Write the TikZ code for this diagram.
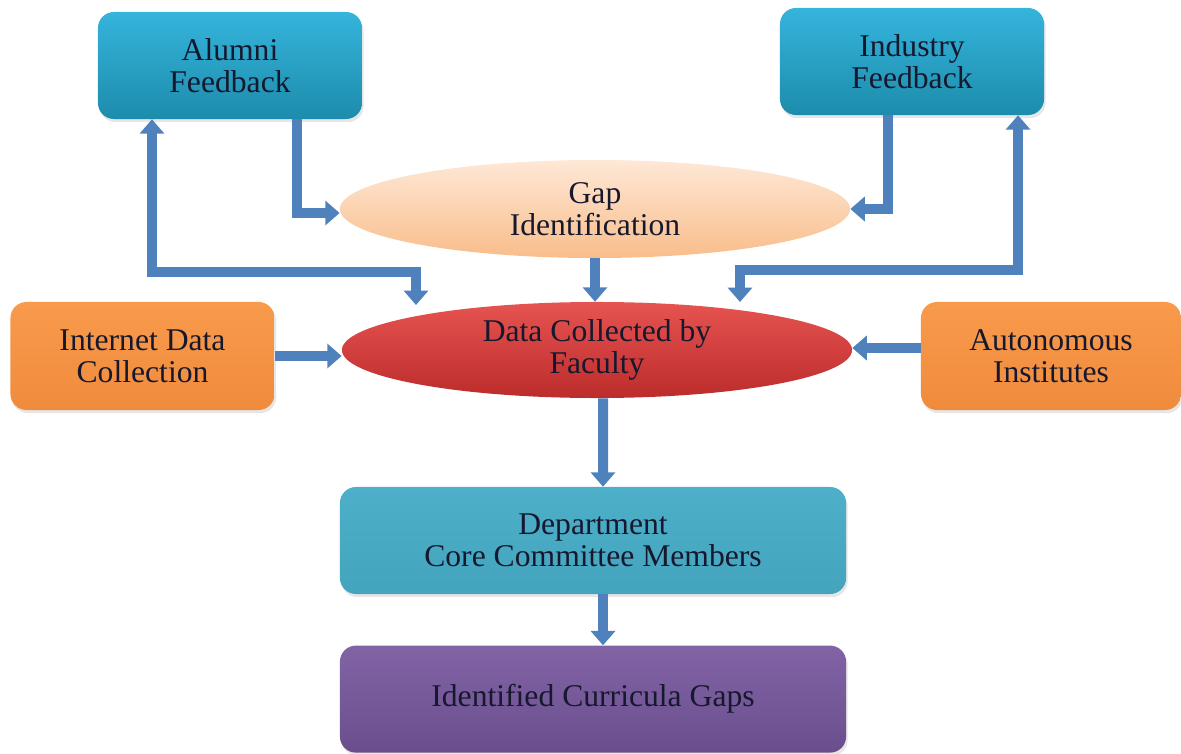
\documentclass[tikz,border=0pt]{standalone}
\usepackage{fontspec}
\setmainfont{Liberation Serif}
\usetikzlibrary{positioning,shapes.geometric,arrows.meta,shadows}

\definecolor{ink}{HTML}{16182E}
\definecolor{flowblue}{HTML}{4F81BD}
\definecolor{tealtop}{HTML}{35B4DC}
\definecolor{tealbot}{HTML}{1D8CAC}
\definecolor{peachtop}{HTML}{FEE8D6}
\definecolor{peachbot}{HTML}{F9BD8B}
\definecolor{redtop}{HTML}{E65451}
\definecolor{redbot}{HTML}{BC2C2B}
\definecolor{orangetop}{HTML}{F89A4C}
\definecolor{orangebot}{HTML}{F08B3C}
\definecolor{cyantop}{HTML}{4DAFC9}
\definecolor{cyanbot}{HTML}{44A4BE}
\definecolor{purpletop}{HTML}{8264A6}
\definecolor{purplebot}{HTML}{6A4E8C}

\begin{document}
\begin{tikzpicture}[x=0.025cm,y=-0.025cm]
      \tikzstyle{txt}=[align=center, text=ink, font=\fontsize{22.5}{23}\selectfont]
      \tikzstyle{box}=[txt, rectangle, rounded corners=0.4cm, minimum width=6.6cm, minimum height=2.675cm, drop shadow={opacity=0.2, shadow xshift=0.04cm, shadow yshift=-0.08cm}]
      \tikzstyle{oval}=[txt, ellipse, inner sep=0pt, minimum width=12.75cm, minimum height=2.45cm]
      \tikzstyle{source}=[box, top color=tealtop, bottom color=tealbot]
      \tikzstyle{outside}=[box, top color=orangetop, bottom color=orangebot, minimum height=2.7cm]
      \tikzstyle{wide}=[box, minimum width=12.65cm]
      \tikzstyle{flow}=[draw=flowblue, line width=0.25cm, -{Triangle[width=0.6cm, length=0.36cm]}]
      \tikzstyle{both}=[flow, {Triangle[width=0.6cm, length=0.36cm]}-{Triangle[width=0.6cm, length=0.36cm]}]

      \useasboundingbox (0,0) rectangle (1181,754);

      \node[source] (alumni) at (230,65.5) {Alumni\\Feedback};
      \node[source] (industry) at (912,61.5) {Industry\\Feedback};
      \node[oval, top color=peachtop, bottom color=peachbot] (gap) at (595,209) {Gap\\Identification};
      \node[oval, top color=redtop, bottom color=redbot, minimum height=2.4cm] (dcf) at (597,350) {Data Collected by\\Faculty};
      \node[outside] (internet) at (142.5,356) {Internet Data\\Collection};
      \node[outside, minimum width=6.5cm] (auto) at (1051,356) {Autonomous\\Institutes};
      \node[wide, top color=cyantop, bottom color=cyanbot] (dept) at (593,540.5) {Department\\Core Committee Members};
      \node[wide, top color=purpletop, bottom color=purplebot] (gaps) [below=1.275cm of dept] {Identified Curricula Gaps};

      \coordinate (a1) at (416,305);
      \coordinate (a2) at (740,302);

      \draw[flow] ([xshift=1.675cm]alumni.south) |- ([yshift=-0.1cm]gap.west);
      \draw[flow] ([xshift=-0.6cm]industry.south) |- (gap.east);
      \draw[both] ([xshift=-1.95cm]alumni.south) -- ++(0,153) -| (a1);
      \draw[both] ([xshift=2.65cm]industry.south) -- ++(0,155) -| (a2);
      \draw[flow] (gap.south) -- (gap.south |- dcf.north);
      \draw[flow] (internet.east) -- (internet.east -| dcf.west);
      \draw[flow] ([yshift=0.2cm]auto.west) -- ([yshift=0.2cm]auto.west -| dcf.east);
      \draw[flow] ([xshift=0.15cm]dcf.south) -- ([xshift=0.25cm]dept.north);
      \draw[flow] ([xshift=0.25cm]dept.south) -- ([xshift=0.25cm]gaps.north);
\end{tikzpicture}
\end{document}
